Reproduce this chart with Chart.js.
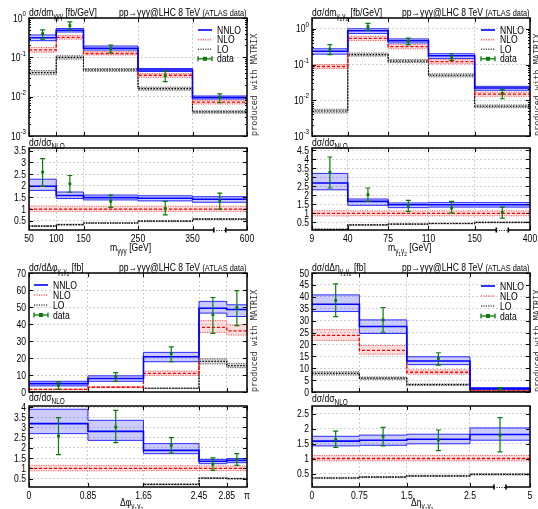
<!DOCTYPE html>
<html>
<head>
<meta charset="utf-8">
<script src="https://cdn.jsdelivr.net/npm/chart.js@4/dist/chart.umd.min.js"></script>
<style>
  body { margin: 0; width: 538px; height: 509px; overflow: hidden; position: relative; background: #fff;
         font-family: "Liberation Sans", Arial, sans-serif; }
  canvas.layer { position: absolute; left: 0; top: 0; }
  .t { position: absolute; white-space: nowrap; font-size: 11px; line-height: 1; color: #000;
       transform: scaleX(0.78); transform-origin: left top; }
  .t.r { transform-origin: right top; }
  .s { font-size: 75%; position: relative; top: 0.35em; }
  .sm { font-size: 86%; }
  .mat { position: absolute; white-space: nowrap; font-family: "DejaVu Sans Mono", monospace; font-size: 8.5px;
         line-height: 1; color: #333; transform-origin: left top; transform: rotate(-90deg); }
</style>
</head>
<body>
<script>
// ---------- m(γγγ) distribution [fb/GeV] ----------
const m3Edges      = [50, 100, 150, 250, 350, 600];
const m3TickLabels = ['50', '100', '150', '250', '350', '600'];
const m3NNLO    = [0.315, 0.49, 0.170, 0.0475, 0.0095];
const m3NNLOUp  = [0.370, 0.54, 0.194, 0.0520, 0.0104];
const m3NNLODn  = [0.265, 0.44, 0.153, 0.0436, 0.0087];
const m3NLO     = [0.155, 0.32, 0.125, 0.0350, 0.0073];
const m3NLOUp   = [0.178, 0.36, 0.140, 0.0390, 0.0082];
const m3NLODn   = [0.135, 0.29, 0.115, 0.0310, 0.0065];
const m3LO      = [0.041, 0.100, 0.048, 0.0160, 0.0041];
const m3LOUp    = [0.046, 0.110, 0.052, 0.0175, 0.0044];
const m3LODn    = [0.036, 0.090, 0.044, 0.0146, 0.0038];
const m3Data    = [0.40, 0.64, 0.165, 0.034, 0.0095];
const m3DataLo  = [0.29, 0.50, 0.130, 0.024, 0.0070];
const m3DataHi  = [0.50, 0.80, 0.205, 0.044, 0.0118];
// ratio to NLO
const m3RNNLO   = [1.98, 1.58, 1.49, 1.46, 1.42];
const m3RNNLOUp = [2.28, 1.73, 1.60, 1.57, 1.53];
const m3RNNLODn = [1.80, 1.45, 1.39, 1.35, 1.29];
const m3RNLO    = [1, 1, 1, 1, 1];
const m3RNLOUp  = [1.13, 1.12, 1.12, 1.12, 1.12];
const m3RNLODn  = [0.89, 0.90, 0.90, 0.90, 0.90];
const m3RLO     = [0.27, 0.33, 0.40, 0.48, 0.57];
const m3RLOUp   = [0.29, 0.35, 0.42, 0.50, 0.59];
const m3RLODn   = [0.25, 0.31, 0.38, 0.46, 0.55];
const m3RData   = [2.58, 2.08, 1.33, 1.02, 1.35];
const m3RDataLo = [1.97, 1.72, 1.07, 0.75, 1.00];
const m3RDataHi = [3.16, 2.44, 1.60, 1.33, 1.68];
const m3RatioTicks = [0.5, 1, 1.5, 2, 2.5, 3, 3.5];

// ---------- m(γ1γ2) distribution [fb/GeV] ----------
const m2Edges      = [9, 40, 75, 110, 150, 400];
const m2TickLabels = ['9', '40', '75', '110', '150', '400'];
const m2NNLO    = [0.235, 0.88, 0.46, 0.175, 0.0220];
const m2NNLOUp  = [0.275, 1.00, 0.52, 0.200, 0.0245];
const m2NNLODn  = [0.195, 0.74, 0.40, 0.148, 0.0190];
const m2NLO     = [0.088, 0.54, 0.315, 0.120, 0.0148];
const m2NLOUp   = [0.100, 0.615, 0.36, 0.137, 0.0169];
const m2NLODn   = [0.077, 0.47, 0.274, 0.104, 0.0129];
const m2LO      = [0.0050, 0.190, 0.125, 0.050, 0.0068];
const m2LOUp    = [0.0056, 0.210, 0.137, 0.055, 0.0074];
const m2LODn    = [0.0044, 0.172, 0.113, 0.045, 0.0062];
const m2Data    = [0.27, 1.15, 0.45, 0.160, 0.0155];
const m2DataLo  = [0.19, 0.92, 0.36, 0.130, 0.0110];
const m2DataHi  = [0.36, 1.42, 0.55, 0.200, 0.0198];
const m2RNNLO   = [2.69, 1.67, 1.48, 1.48, 1.48];
const m2RNNLOUp = [3.22, 1.80, 1.58, 1.60, 1.60];
const m2RNNLODn = [2.31, 1.45, 1.32, 1.35, 1.35];
const m2RNLO    = [1, 1, 1, 1, 1];
const m2RNLOUp  = [1.15, 1.14, 1.14, 1.14, 1.14];
const m2RNLODn  = [0.86, 0.87, 0.87, 0.87, 0.87];
const m2RLO     = [0.11, 0.36, 0.41, 0.44, 0.50];
const m2RLOUp   = [0.13, 0.38, 0.43, 0.46, 0.52];
const m2RLODn   = [0.09, 0.34, 0.39, 0.42, 0.48];
const m2RData   = [3.28, 2.04, 1.43, 1.30, 1.06];
const m2RDataLo = [2.41, 1.67, 1.11, 1.02, 0.74];
const m2RDataHi = [4.13, 2.41, 1.72, 1.67, 1.35];
const m2RatioTicks = [0.5, 1, 1.5, 2, 2.5, 3, 3.5, 4, 4.5];

// ---------- Δφ(γ1γ2) distribution [fb] ----------
const dphiEdges      = [0, 0.85, 1.65, 2.45, 2.85, Math.PI];
const dphiTickLabels = ['0', '0.85', '1.65', '2.45', '2.85', 'π'];
const dphiNNLO    = [4.9, 7.9, 20.7, 49.3, 48.5];
const dphiNNLOUp  = [6.3, 9.5, 23.3, 53.3, 51.3];
const dphiNNLODn  = [3.6, 6.3, 17.8, 46.4, 44.4];
const dphiNLO     = [1.5, 2.8, 11.0, 38.0, 36.0];
const dphiNLOUp   = [1.7, 3.1, 12.3, 42.0, 39.5];
const dphiNLODn   = [1.35, 2.5, 9.8, 35.0, 33.5];
const dphiLO      = [0, 0, 2.2, 18.0, 15.5];
const dphiLOUp    = [0, 0, 2.4, 19.5, 16.8];
const dphiLODn    = [0, 0, 2.0, 16.5, 14.3];
const dphiData    = [3.9, 9.0, 22.7, 45.5, 49.7];
const dphiDataLo  = [1.6, 6.3, 17.8, 34.5, 39.0];
const dphiDataHi  = [5.9, 11.4, 26.6, 55.6, 59.6];
const dphiRNNLO   = [3.19, 2.81, 1.88, 1.35, 1.39];
const dphiRNNLOUp = [3.89, 3.35, 2.21, 1.44, 1.48];
const dphiRNNLODn = [2.70, 2.37, 1.72, 1.23, 1.28];
const dphiRNLO    = [1, 1, 1, 1, 1];
const dphiRNLOUp  = [1.15, 1.14, 1.13, 1.12, 1.12];
const dphiRNLODn  = [0.88, 0.88, 0.89, 0.89, 0.89];
const dphiRLO     = [0, 0, 0.22, 0.52, 0.50];
const dphiRLOUp   = [0, 0, 0.24, 0.54, 0.52];
const dphiRLODn   = [0, 0, 0.20, 0.50, 0.48];
const dphiRData   = [2.58, 3.02, 2.13, 1.20, 1.44];
const dphiRDataLo = [1.67, 2.26, 1.75, 0.90, 1.15];
const dphiRDataHi = [3.48, 3.84, 2.50, 1.51, 1.72];
const dphiMainTicks  = [0, 10, 20, 30, 40, 50, 60, 70];
const dphiRatioTicks = [0.5, 1, 1.5, 2, 2.5, 3, 3.5, 4];

// ---------- Δη(γ1γ2) distribution [fb] ----------
const detaEdges      = [0, 0.75, 1.5, 2.5, 5];
const detaTickLabels = ['0', '0.75', '1.5', '2.5', '5'];
const detaNNLO    = [36.9, 27.5, 13.0, 1.40];
const detaNNLOUp  = [40.8, 30.3, 14.8, 1.80];
const detaNNLODn  = [33.8, 24.6, 11.5, 1.10];
const detaNLO     = [23.8, 17.5, 8.3, 0.80];
const detaNLOUp   = [26.2, 19.5, 9.3, 0.88];
const detaNLODn   = [21.6, 15.9, 7.5, 0.72];
const detaLO      = [7.8, 5.8, 3.1, 0.36];
const detaLOUp    = [8.5, 6.3, 3.4, 0.40];
const detaLODn    = [7.1, 5.3, 2.8, 0.32];
const detaData    = [38.5, 30.3, 14.1, 1.45];
const detaDataLo  = [31.7, 25.1, 11.3, 1.00];
const detaDataHi  = [45.4, 35.5, 16.5, 1.90];
const detaRNNLO   = [1.58, 1.61, 1.64, 1.80];
const detaRNNLOUp = [1.74, 1.78, 1.81, 2.02];
const detaRNNLODn = [1.42, 1.44, 1.49, 1.61];
const detaRNLO    = [1, 1, 1, 1];
const detaRNLOUp  = [1.10, 1.10, 1.10, 1.10];
const detaRNLODn  = [0.92, 0.92, 0.92, 0.92];
const detaRLO     = [0.35, 0.38, 0.42, 0.47];
const detaRLOUp   = [0.37, 0.40, 0.44, 0.49];
const detaRLODn   = [0.33, 0.36, 0.40, 0.45];
const detaRData   = [1.63, 1.74, 1.62, 1.78];
const detaRDataLo = [1.37, 1.42, 1.26, 1.22];
const detaRDataHi = [1.91, 2.04, 1.95, 2.36];
const detaMainTicks  = [0, 5, 10, 15, 20, 25, 30, 35, 40, 45, 50];
const detaRatioTicks = [0.5, 1, 1.5, 2, 2.5];

const logTicks = [1e-3, 1e-2, 1e-1, 1];

// ---------- styles ----------
const FONT = '"Liberation Sans", Arial, sans-serif';
const SX = 0.78;            // horizontal squeeze of all labels
const DATA_C = '#0a7a0a';
const STY = {
  nnlo: { line: '#0000ff', w: 1.6, dash: [], edge: '#2a2aff', edgeDash: [], fill: 'rgba(70,70,255,0.28)' },
  nlo:  { line: '#ff0000', w: 1.3, dash: [3, 2], edge: '#ff5a5a', edgeDash: [1.2, 1.2], fill: 'rgba(255,90,90,0.22)' },
  lo:   { line: '#000000', w: 1.2, dash: [1.5, 1.5], edge: '#555555', edgeDash: [1.2, 1.2], fill: 'rgba(0,0,0,0.16)' }
};

// axis with a compressed last bin
function makeMap(brk) {
  if (!brk) return v => v;
  return v => v <= brk.at ? v : brk.at + (v - brk.at) / (brk.end - brk.at) * brk.width;
}
const stepPts = (edges, vals, map) => edges.map((e, i) => ({ x: map(e), y: vals[Math.min(i, vals.length - 1)] }));
const midX = (edges, map, i) => (map(edges[i]) + map(edges[i + 1])) / 2;

function bandSets(edges, map, c, up, dn, st) {
  // each bin value holds from its left edge to the next edge
  const base = { stepped: 'before', pointRadius: 0, tension: 0 };
  return [
    { ...base, data: stepPts(edges, c, map), borderColor: st.line, borderWidth: st.w, borderDash: st.dash, fill: false },
    { ...base, data: stepPts(edges, up, map), borderColor: st.edge, borderWidth: 1, borderDash: st.edgeDash, fill: false },
    { ...base, data: stepPts(edges, dn, map), borderColor: st.edge, borderWidth: 1, borderDash: st.edgeDash, fill: '-1', backgroundColor: st.fill }
  ];
}

// squeezed text helper
function sText(ctx, str, x, y, align, size) {
  ctx.save();
  ctx.font = size + 'px ' + FONT;
  ctx.translate(x, y); ctx.scale(SX, 1);
  ctx.textAlign = align;
  ctx.fillText(str, 0, 0);
  ctx.restore();
}
function textW(ctx, str, size) {
  ctx.save(); ctx.font = size + 'px ' + FONT;
  const w = ctx.measureText(str).width * SX;
  ctx.restore(); return w;
}

// frame, inner tick marks, tick labels, error bars, axis break and legend
const deco = {
  id: 'deco',
  afterDatasetsDraw(chart, args, o) {
    const { ctx, chartArea: a, scales: { x, y } } = chart;
    ctx.save();
    if (o.err) {
      ctx.strokeStyle = DATA_C; ctx.lineWidth = 1.2;
      ctx.beginPath();
      o.err.forEach(p => {
        const px = x.getPixelForValue(p.x), p1 = y.getPixelForValue(p.lo), p2 = y.getPixelForValue(p.hi);
        ctx.moveTo(px, p1); ctx.lineTo(px, p2);
        ctx.moveTo(px - 2.5, p1); ctx.lineTo(px + 2.5, p1);
        ctx.moveTo(px - 2.5, p2); ctx.lineTo(px + 2.5, p2);
      });
      ctx.stroke();
    }
    ctx.strokeStyle = '#000'; ctx.lineWidth = 1;
    ctx.beginPath();
    x.ticks.forEach(t => {
      const px = Math.round(x.getPixelForValue(t.value)) + 0.5;
      ctx.moveTo(px, a.bottom); ctx.lineTo(px, a.bottom - 4);
      ctx.moveTo(px, a.top); ctx.lineTo(px, a.top + 4);
    });
    y.ticks.forEach(t => {
      const py = Math.round(y.getPixelForValue(t.value)) + 0.5;
      ctx.moveTo(a.left, py); ctx.lineTo(a.left + 4, py);
      ctx.moveTo(a.right, py); ctx.lineTo(a.right - 4, py);
    });
    if (o.minorLog) {
      for (let d = 1e-3; d < y.max; d *= 10) {
        for (let k = 2; k <= 9; k++) {
          const v = k * d;
          if (v >= y.max) break;
          const py = Math.round(y.getPixelForValue(v)) + 0.5;
          ctx.moveTo(a.left, py); ctx.lineTo(a.left + 2, py);
          ctx.moveTo(a.right, py); ctx.lineTo(a.right - 2, py);
        }
      }
    }
    ctx.stroke();
    ctx.lineWidth = 1.5;
    ctx.strokeRect(a.left, a.top, a.right - a.left, a.bottom - a.top);

    // tick labels
    ctx.fillStyle = '#000';
    ctx.textBaseline = 'middle';
    y.ticks.forEach(t => {
      const py = y.getPixelForValue(t.value), rx = a.left - 3;
      if (o.log) {
        const ex = String(Math.round(Math.log10(t.value)));
        const we = textW(ctx, ex, 8);
        sText(ctx, ex, rx, py - 4, 'right', 8);
        sText(ctx, '10', rx - we, py + 0.5, 'right', 11);
      } else {
        sText(ctx, String(t.value), rx, py + 0.5, 'right', 11);
      }
    });
    if (o.xLabels) {
      ctx.textBaseline = 'top';
      x.ticks.forEach((t, i) => sText(ctx, o.xLabels[i], x.getPixelForValue(t.value), a.bottom + 3, 'center', 11));
    }

    if (o.brk != null) {
      const px = x.getPixelForValue(o.brk), w = 6;
      ctx.fillStyle = '#fff';
      ctx.fillRect(px - w, a.bottom - 1.5, 2 * w, 3);
      ctx.lineWidth = 1; ctx.setLineDash([1, 1.5]);
      ctx.beginPath(); ctx.moveTo(px - w, a.bottom + 0.5); ctx.lineTo(px + w, a.bottom + 0.5); ctx.stroke();
      ctx.setLineDash([]); ctx.lineWidth = 1.6;
      ctx.beginPath();
      ctx.moveTo(px - w, a.bottom - 2.5); ctx.lineTo(px - w, a.bottom + 2.5);
      ctx.moveTo(px + w, a.bottom - 2.5); ctx.lineTo(px + w, a.bottom + 2.5);
      ctx.stroke();
    }
    if (o.legend) {
      const L = o.legend, len = 14;
      ctx.fillStyle = '#000'; ctx.textBaseline = 'middle';
      const rows = [
        ['NNLO', STY.nnlo.line, [], 1.6],
        ['NLO', '#ff6a6a', [1.2, 1.2], 1.6],
        ['LO', '#555', [1.2, 1.2], 1.4],
        ['data', DATA_C, [], 1.3]
      ];
      rows.forEach((r, i) => {
        const yy = L.y + i * L.dy;
        ctx.strokeStyle = r[1]; ctx.lineWidth = r[3]; ctx.setLineDash(r[2]);
        ctx.beginPath(); ctx.moveTo(L.x, yy); ctx.lineTo(L.x + len, yy); ctx.stroke();
        ctx.setLineDash([]);
        if (r[0] === 'data') {
          ctx.beginPath();
          ctx.moveTo(L.x, yy - 2.5); ctx.lineTo(L.x, yy + 2.5);
          ctx.moveTo(L.x + len, yy - 2.5); ctx.lineTo(L.x + len, yy + 2.5);
          ctx.stroke();
          ctx.fillStyle = DATA_C; ctx.fillRect(L.x + len / 2 - 2, yy - 2, 4, 4); ctx.fillStyle = '#000';
        }
        sText(ctx, r[0], L.x + len + 5, yy + 0.5, 'left', 11);
      });
    }
    ctx.restore();
  }
};

function addChart(frame, c) {
  const cv = document.createElement('canvas');
  cv.width = 538; cv.height = 509; cv.className = 'layer';
  document.body.appendChild(cv);
  new Chart(cv, {
    type: 'line',
    data: { datasets: c.datasets },
    options: {
      responsive: false, animation: false, events: [], devicePixelRatio: 1,
      layout: { padding: { left: frame.L, top: frame.T, right: 538 - frame.R, bottom: 509 - frame.B } },
      plugins: { legend: { display: false }, tooltip: { enabled: false }, deco: c.deco },
      scales: {
        x: {
          type: 'linear', min: c.xMin, max: c.xMax, bounds: 'data',
          afterBuildTicks: s => { s.ticks = c.xTicks.map(v => ({ value: v })); },
          afterFit: s => { s.height = 0; s.paddingLeft = 0; s.paddingRight = 0; },
          ticks: { display: false },
          grid: { color: '#c4c4c4', lineWidth: 0.8, drawTicks: false },
          border: { display: false, dash: [2, 2] }
        },
        y: {
          type: c.log ? 'logarithmic' : 'linear', min: c.yMin, max: c.yMax, bounds: 'data',
          afterBuildTicks: s => { s.ticks = c.yTicks.map(v => ({ value: v })); },
          afterFit: s => { s.width = 0; s.paddingTop = 0; s.paddingBottom = 0; },
          ticks: { display: false },
          grid: { color: '#c4c4c4', lineWidth: 0.8, drawTicks: false },
          border: { display: false, dash: [2, 2] }
        }
      }
    },
    plugins: [deco]
  });
}

function panel(p) {
  const map = makeMap(p.brk);
  const xMin = map(p.edges[0]), xMax = map(p.edges[p.edges.length - 1]);
  const xTicks = p.edges.map(map);
  const build = (s) => {
    const pts = s.data.map((v, i) => ({ x: midX(p.edges, map, i), y: v }));
    const err = s.data.map((v, i) => ({ x: midX(p.edges, map, i), lo: s.lo[i], hi: s.hi[i] }));
    const datasets = [
      { data: pts, showLine: false, pointRadius: 2, pointStyle: 'rect', backgroundColor: DATA_C, borderColor: DATA_C, borderWidth: 0 },
      ...bandSets(p.edges, map, s.nnlo[0], s.nnlo[1], s.nnlo[2], STY.nnlo),
      ...bandSets(p.edges, map, s.nlo[0], s.nlo[1], s.nlo[2], STY.nlo),
      ...bandSets(p.edges, map, s.lo3[0], s.lo3[1], s.lo3[2], STY.lo)
    ];
    return { datasets, err };
  };
  const m = build(p.main), r = build(p.ratio);
  addChart(p.mainFrame, {
    datasets: m.datasets, xMin, xMax, xTicks, log: p.main.log, yMin: p.main.min, yMax: p.main.max, yTicks: p.main.ticks,
    deco: { err: m.err, log: p.main.log, minorLog: p.main.log, legend: p.legend, brk: null }
  });
  addChart(p.ratioFrame, {
    datasets: r.datasets, xMin, xMax, xTicks, log: false, yMin: p.ratio.min, yMax: p.ratio.max, yTicks: p.ratio.ticks,
    deco: { err: r.err, log: false, xLabels: p.xLabels, brk: p.brk ? p.brk.at + p.brk.width / 2 : null }
  });
}

panel({
  edges: m3Edges, xLabels: m3TickLabels, brk: { at: 350, end: 600, width: 100 },
  mainFrame: { L: 29, R: 247, T: 18, B: 136 }, ratioFrame: { L: 29, R: 247, T: 148, B: 230 },
  legend: { x: 198, y: 30, dy: 9.6 },
  main: { log: true, min: 1e-3, max: 1, ticks: logTicks, data: m3Data, lo: m3DataLo, hi: m3DataHi,
          nnlo: [m3NNLO, m3NNLOUp, m3NNLODn], nlo: [m3NLO, m3NLOUp, m3NLODn], lo3: [m3LO, m3LOUp, m3LODn] },
  ratio: { min: 0.1, max: 3.62, ticks: m3RatioTicks, data: m3RData, lo: m3RDataLo, hi: m3RDataHi,
           nnlo: [m3RNNLO, m3RNNLOUp, m3RNNLODn], nlo: [m3RNLO, m3RNLOUp, m3RNLODn], lo3: [m3RLO, m3RLOUp, m3RLODn] }
});
panel({
  edges: m2Edges, xLabels: m2TickLabels, brk: { at: 150, end: 400, width: 48 },
  mainFrame: { L: 312, R: 530, T: 18, B: 136 }, ratioFrame: { L: 312, R: 530, T: 148, B: 230 },
  legend: { x: 481, y: 30, dy: 9.6 },
  main: { log: true, min: 1e-3, max: 2, ticks: logTicks, data: m2Data, lo: m2DataLo, hi: m2DataHi,
          nnlo: [m2NNLO, m2NNLOUp, m2NNLODn], nlo: [m2NLO, m2NLOUp, m2NLODn], lo3: [m2LO, m2LOUp, m2LODn] },
  ratio: { min: 0.08, max: 4.63, ticks: m2RatioTicks, data: m2RData, lo: m2RDataLo, hi: m2RDataHi,
           nnlo: [m2RNNLO, m2RNNLOUp, m2RNNLODn], nlo: [m2RNLO, m2RNLOUp, m2RNLODn], lo3: [m2RLO, m2RLOUp, m2RLODn] }
});
panel({
  edges: dphiEdges, xLabels: dphiTickLabels, brk: null,
  mainFrame: { L: 29, R: 247, T: 273, B: 392 }, ratioFrame: { L: 29, R: 247, T: 406, B: 487 },
  legend: { x: 34, y: 285, dy: 10 },
  main: { log: false, min: 0, max: 70, ticks: dphiMainTicks, data: dphiData, lo: dphiDataLo, hi: dphiDataHi,
          nnlo: [dphiNNLO, dphiNNLOUp, dphiNNLODn], nlo: [dphiNLO, dphiNLOUp, dphiNLODn], lo3: [dphiLO, dphiLOUp, dphiLODn] },
  ratio: { min: 0.09, max: 4.05, ticks: dphiRatioTicks, data: dphiRData, lo: dphiRDataLo, hi: dphiRDataHi,
           nnlo: [dphiRNNLO, dphiRNNLOUp, dphiRNNLODn], nlo: [dphiRNLO, dphiRNLOUp, dphiRNLODn], lo3: [dphiRLO, dphiRLOUp, dphiRLODn] }
});
panel({
  edges: detaEdges, xLabels: detaTickLabels, brk: { at: 2.5, end: 5, width: 0.95 },
  mainFrame: { L: 312, R: 530, T: 273, B: 392 }, ratioFrame: { L: 312, R: 530, T: 406, B: 487 },
  legend: { x: 481, y: 286, dy: 10 },
  main: { log: false, min: 0, max: 50, ticks: detaMainTicks, data: detaData, lo: detaDataLo, hi: detaDataHi,
          nnlo: [detaNNLO, detaNNLOUp, detaNNLODn], nlo: [detaNLO, detaNLOUp, detaNLODn], lo3: [detaLO, detaLOUp, detaLODn] },
  ratio: { min: 0.05, max: 2.75, ticks: detaRatioTicks, data: detaRData, lo: detaRDataLo, hi: detaRDataHi,
           nnlo: [detaRNNLO, detaRNNLOUp, detaRNNLODn], nlo: [detaRNLO, detaRNLOUp, detaRNLODn], lo3: [detaRLO, detaRLOUp, detaRLODn] }
});

// ---------- titles and axis labels ----------
function text(html, x, y, cls, right) {
  const d = document.createElement('div');
  d.className = (cls || 't') + (right ? ' r' : '');
  d.innerHTML = html;
  d.style.top = y + 'px';
  if (right) d.style.right = (538 - x) + 'px'; else d.style.left = x + 'px';
  document.body.appendChild(d);
}
const g12 = 'γ<span class="s">1</span>γ<span class="s">2</span>';
const proc = 'pp→γγγ@LHC 8 TeV <span class="sm">(ATLAS data)</span>';
const ratioLbl = 'dσ/dσ<span class="s">NLO</span>';

text('dσ/dm<span class="s">γγγ</span> [fb/GeV]', 29, 7);
text(proc, 247, 7, 't', true);
text(ratioLbl, 29, 137);
text('m<span class="s">γγγ</span> [GeV]', 110, 242);

text('dσ/dm<span class="s">' + g12 + '</span> [fb/GeV]', 312, 7);
text(proc, 530, 7, 't', true);
text(ratioLbl, 312, 137);
text('m<span class="s">' + g12 + '</span> [GeV]', 388, 242);

text('dσ/dΔφ<span class="s">' + g12 + '</span> [fb]', 29, 262);
text(proc, 247, 262, 't', true);
text(ratioLbl, 29, 392);
text('Δφ<span class="s">' + g12 + '</span>', 120, 497);

text('dσ/dΔη<span class="s">' + g12 + '</span> [fb]', 312, 262);
text(proc, 530, 262, 't', true);
text(ratioLbl, 312, 393);
text('Δη<span class="s">' + g12 + '</span>', 411, 497);

text('produced with MATRIX', 250, 136, 'mat');
text('produced with MATRIX', 533, 136, 'mat');
text('produced with MATRIX', 250, 392, 'mat');
text('produced with MATRIX', 533, 392, 'mat');
</script>
</body>
</html>
